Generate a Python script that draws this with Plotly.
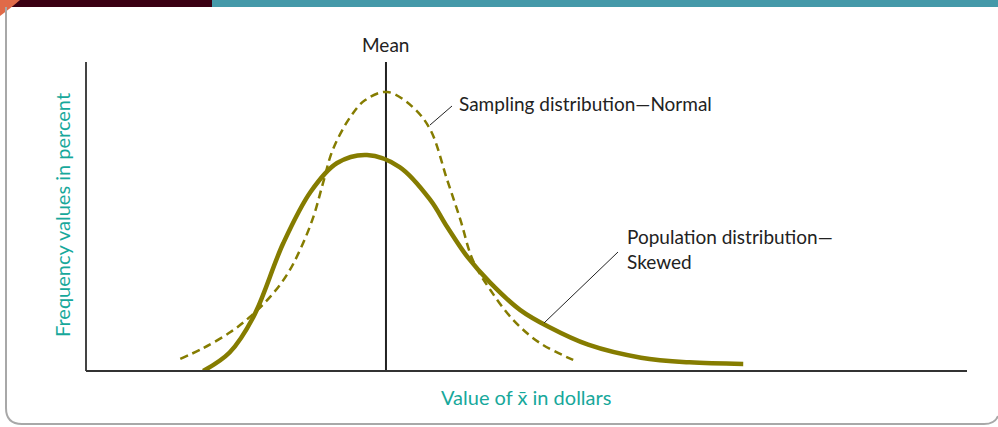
import plotly.graph_objects as go

# values (x: 0-100 across the axis, y: percent of axis height)
pop_x = [13.3, 16.3, 19.0, 22.4, 25.5, 28.5, 31.9, 35.6, 39.1, 41.0, 43.3,
         45.9, 49.3, 52.5, 57.0, 63.0, 68.5, 74.6]
pop_y = [0.0, 6.0, 17.5, 41.4, 58.0, 67.3, 69.9, 66.0, 55.3, 46.6, 36.9,
         28.5, 19.7, 14.3, 8.5, 4.3, 2.8, 2.3]

samp_x = [10.7, 13.3, 16.4, 18.6, 20.9, 22.8, 24.3, 25.8, 26.9, 28.0, 30.0, 31.7, 34.2, 37.1,
          39.1, 41.0, 42.5, 43.9, 45.9, 48.5, 51.5, 55.3]
samp_y = [3.9, 7.4, 12.6, 17.5, 24.0, 31.1, 39.2, 49.8, 60.8, 71.5, 82.2, 87.7, 90.3, 85.4,
          78.0, 61.8, 48.9, 35.9, 26.2, 16.5, 9.1, 3.6]

mean_x = 34.05

olive = '#857c00'
teal = '#17a89b'
font = 'Lato, "Open Sans", sans-serif'

# plot area in pixels: x 86..967, y 62..371
L, R, T, B = 86, 967, 62, 371
W, H = 998, 427


def px(x):
    return (x - L) / (R - L)


def py(y):
    return (B - y) / (B - T)


fig = go.Figure()

# mean line
fig.add_trace(go.Scatter(x=[mean_x, mean_x], y=[0, 100], mode='lines',
                         line=dict(color='#222222', width=2), hoverinfo='skip'))
# sampling distribution (dashed)
fig.add_trace(go.Scatter(x=samp_x, y=samp_y, mode='lines', line_shape='spline',
                         line=dict(color=olive, width=2.5, dash='8px,5px'), hoverinfo='skip'))
# population distribution (solid)
fig.add_trace(go.Scatter(x=pop_x, y=pop_y, mode='lines', line_shape='spline',
                         line=dict(color=olive, width=4.5), hoverinfo='skip'))

shapes = [
    # top banner
    dict(type='rect', xref='paper', yref='paper', x0=px(0), x1=px(212), y0=py(0), y1=py(7),
         fillcolor='#3a0013', line_width=0, layer='below'),
    dict(type='rect', xref='paper', yref='paper', x0=px(212), x1=px(W), y0=py(0), y1=py(7),
         fillcolor='#4599a9', line_width=0, layer='below'),
    dict(type='path', xref='paper', yref='paper',
         path=f'M {px(0)} {py(0)} L {px(20)} {py(0)} Q {px(12)} {py(7)} {px(0)} {py(16)} Z',
         fillcolor='#e06a48', line_width=0),
    # rounded panel border
    dict(type='path', xref='paper', yref='paper',
         path=(f'M {px(6)} {py(7)} L {px(6)} {py(408)} Q {px(6)} {py(424)} {px(22)} {py(424)} '
               f'L {px(984)} {py(424)} Q {px(995)} {py(424)} {px(998)} {py(416)}'),
         line=dict(color='#a8a8a8', width=2)),
    # axes
    dict(type='line', xref='paper', yref='paper', x0=0, x1=0, y0=0, y1=1,
         line=dict(color='#444444', width=2)),
    dict(type='line', xref='paper', yref='paper', x0=0, x1=1, y0=0, y1=0,
         line=dict(color='#333333', width=2)),
    # leader lines
    dict(type='line', xref='paper', yref='paper', x0=px(430), y0=py(125), x1=px(452), y1=py(106),
         line=dict(color='#222222', width=1)),
    dict(type='line', xref='paper', yref='paper', x0=px(544), y0=py(323), x1=px(618), y1=py(252),
         line=dict(color='#222222', width=1)),
]

label_font = dict(family=font, size=19, color='#222222')
teal_font = dict(family=font, size=20, color=teal)
annotations = [
    dict(text='Mean', x=mean_x, xref='x', y=py(44), yref='paper', showarrow=False,
         font=label_font, xanchor='center', yanchor='middle'),
    dict(text='Sampling distribution—Normal', x=px(457), y=py(103), xref='paper', yref='paper',
         showarrow=False, font=label_font, xanchor='left', yanchor='middle'),
    dict(text='Population distribution—<br>Skewed', x=px(625), y=py(249), xref='paper', yref='paper',
         showarrow=False, font=label_font, xanchor='left', yanchor='middle', align='left'),
    dict(text='Frequency values in percent', x=px(62), y=py(215), xref='paper', yref='paper',
         showarrow=False, textangle=-90, font=teal_font, xanchor='center', yanchor='middle'),
    dict(text='Value of x\u0304 in dollars', x=px(526), y=py(397),
         xref='paper', yref='paper', showarrow=False, font=teal_font, xanchor='center', yanchor='middle'),
]

fig.update_layout(
    width=W, height=H,
    margin=dict(l=L, r=W - R, t=T, b=H - B),
    paper_bgcolor='white', plot_bgcolor='white',
    showlegend=False,
    xaxis=dict(range=[0, 100], visible=False, fixedrange=True),
    yaxis=dict(range=[0, 100], visible=False, fixedrange=True),
    shapes=shapes,
    annotations=annotations,
)

fig.write_html("out.html", config=dict(displayModeBar=False),
               post_script="document.body.style.margin='0';")
